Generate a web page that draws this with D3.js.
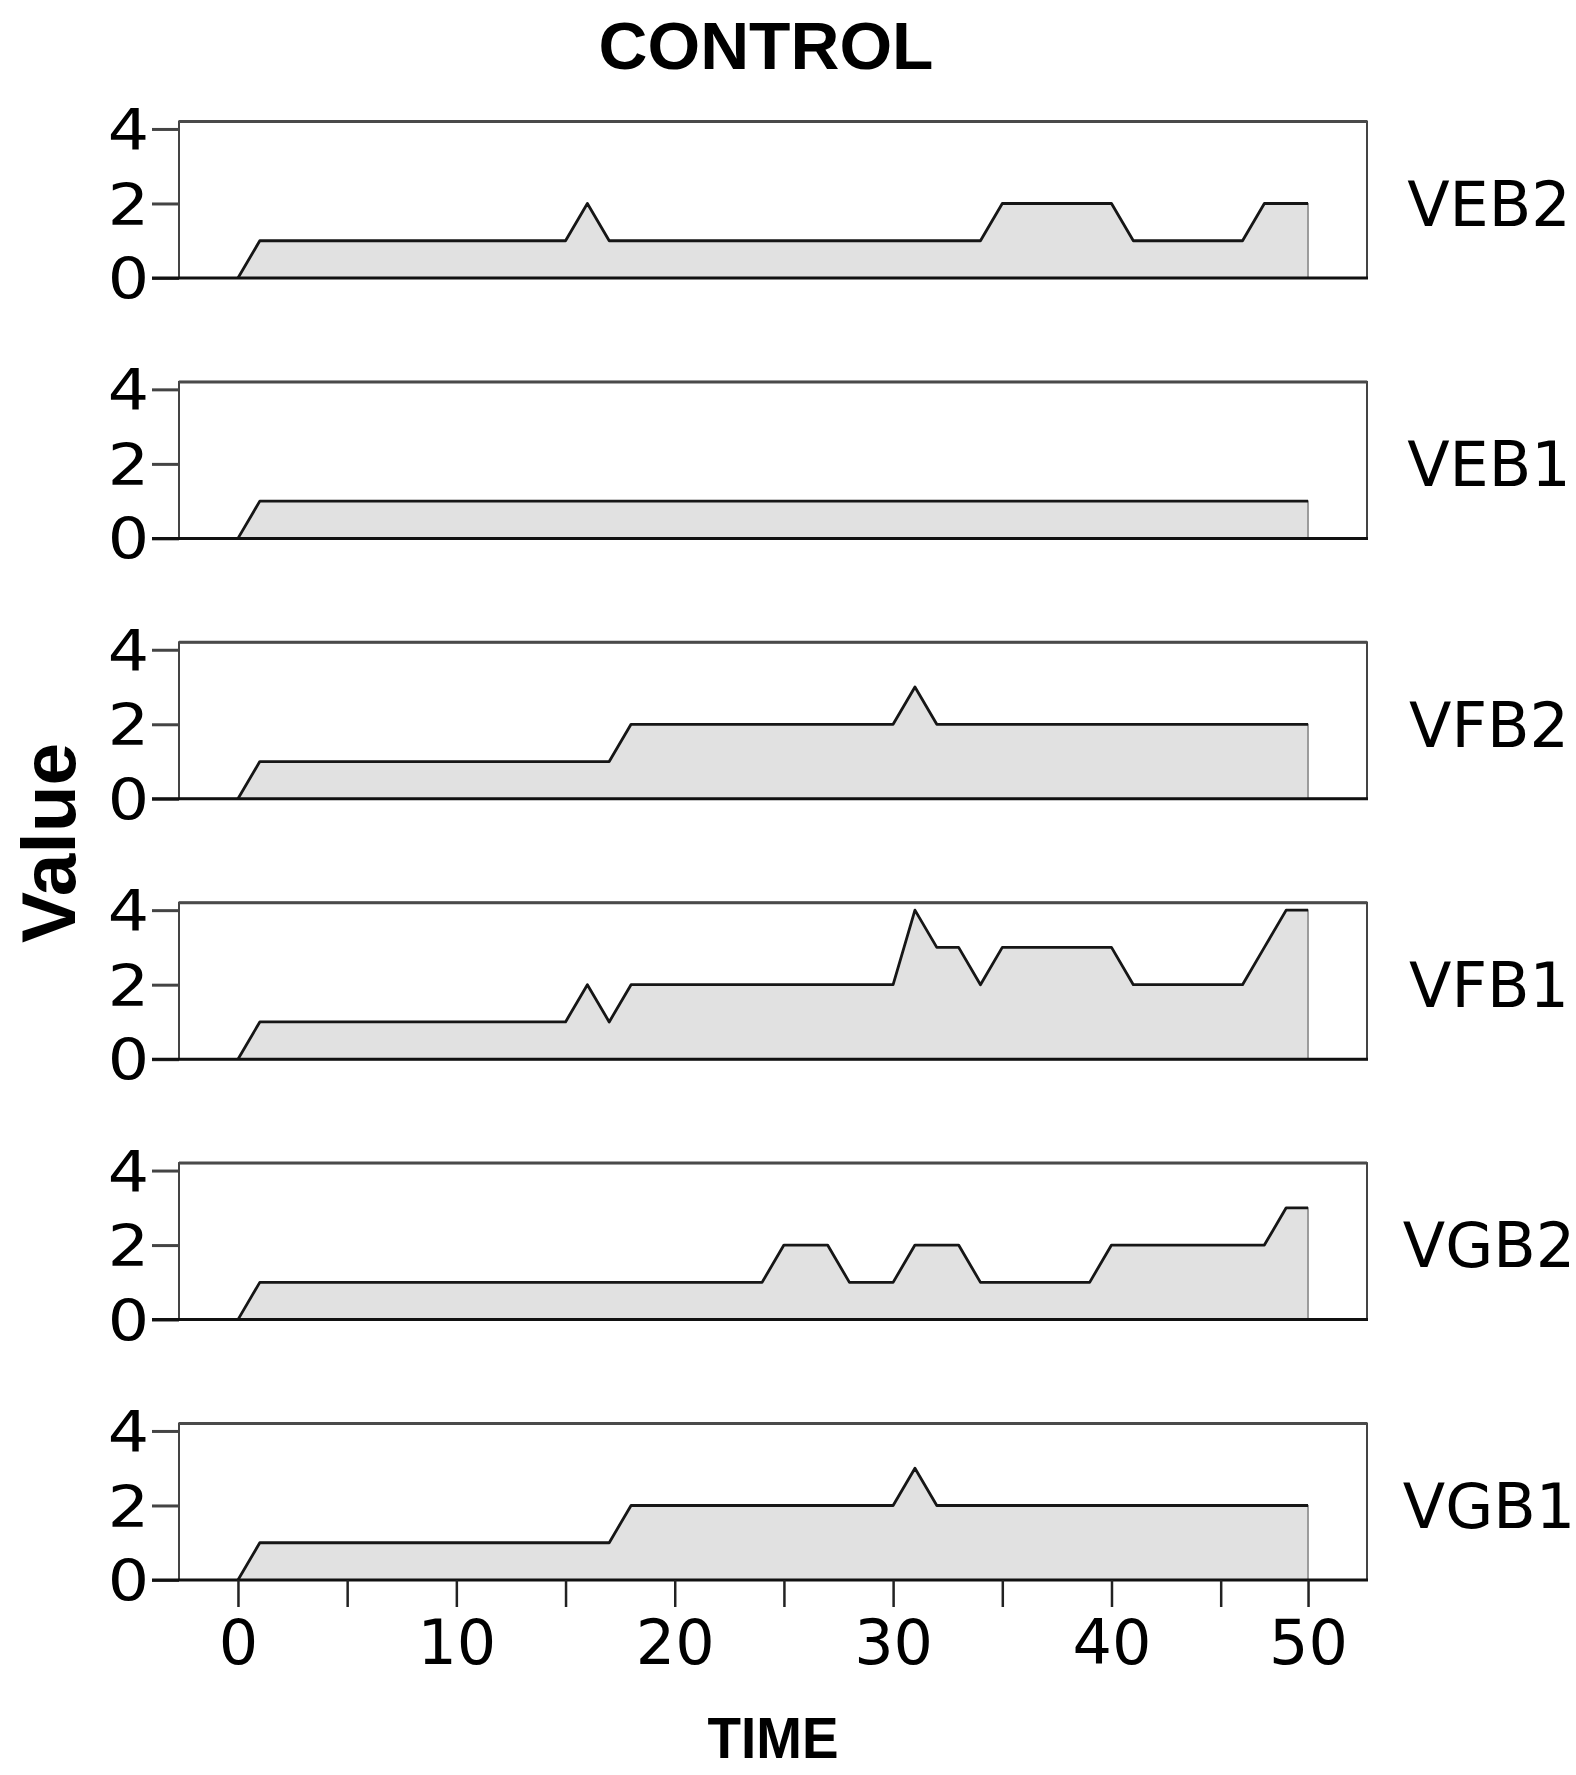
<!DOCTYPE html>
<html>
<head>
<meta charset="utf-8">
<script src="https://cdn.jsdelivr.net/npm/d3@7/dist/d3.min.js"></script>
<style>
	body { margin: 0; background: #fff; }
	.tick text { font-family: "DejaVu Sans", sans-serif; fill: #000; }
</style>
</head>
<body>
<div id="main"></div>
<script>

// time points (x) and the six series
var time = [0,1,2,3,4,5,6,7,8,9,
	10,11,12,13,14,15,16,17,18,19,
	20,21,22,23,24,25,26,27,28,29,
	30,31,32,33,34,35,36,37,38,39,
	40,41,42,43,44,45,46,47,48,49]

var seriesNames = ["VEB2", "VEB1", "VFB2", "VFB1", "VGB2", "VGB1"]

var veb2 = [0,1,1,1,1,1,1,1,1,1,
	1,1,1,1,1,1,2,1,1,1,
	1,1,1,1,1,1,1,1,1,1,
	1,1,1,1,1,2,2,2,2,2,
	2,1,1,1,1,1,1,2,2,2]

var veb1 = [0,1,1,1,1,1,1,1,1,1,
	1,1,1,1,1,1,1,1,1,1,
	1,1,1,1,1,1,1,1,1,1,
	1,1,1,1,1,1,1,1,1,1,
	1,1,1,1,1,1,1,1,1,1]

var vfb2 = [0,1,1,1,1,1,1,1,1,1,
	1,1,1,1,1,1,1,1,2,2,
	2,2,2,2,2,2,2,2,2,2,
	2,3,2,2,2,2,2,2,2,2,
	2,2,2,2,2,2,2,2,2,2]

var vfb1 = [0,1,1,1,1,1,1,1,1,1,
	1,1,1,1,1,1,2,1,2,2,
	2,2,2,2,2,2,2,2,2,2,
	2,4,3,3,2,3,3,3,3,3,
	3,2,2,2,2,2,2,3,4,4]

var vgb2 = [0,1,1,1,1,1,1,1,1,1,
	1,1,1,1,1,1,1,1,1,1,
	1,1,1,1,1,2,2,2,1,1,
	1,2,2,2,1,1,1,1,1,1,
	2,2,2,2,2,2,2,2,3,3]

var vgb1 = [0,1,1,1,1,1,1,1,1,1,
	1,1,1,1,1,1,1,1,2,2,
	2,2,2,2,2,2,2,2,2,2,
	2,3,2,2,2,2,2,2,2,2,
	2,2,2,2,2,2,2,2,2,2]

var seriesValues = [veb2, veb1, vfb2, vfb1, vgb2, vgb1]

var yTicks = [0, 2, 4]
var yTickLabels = ["0", "2", "4"]
var xTicks = [0, 5, 10, 15, 20, 25, 30, 35, 40, 45, 49]
var xTickLabels = ["0", "", "10", "", "20", "", "30", "", "40", "", "50"]

// layout
var w = 1576,
	h = 1775,
	plotLeft = 179,
	plotRight = 1367,
	panelTop = 121.5,
	panelH = 156.5,
	panelStep = 260.4

var svg = d3.select("#main")
	.append("svg")
	.attr("width", w)
	.attr("height", h)
	.style("display", "block")

var x = d3.scaleLinear()
	.domain([-2.7, 51.7])
	.range([plotLeft, plotRight])

seriesNames.forEach(function(name, i) {

	var bottom = panelTop + panelH + i * panelStep

	var y = d3.scaleLinear()
		.domain([0, 4.2])
		.range([bottom, bottom - panelH])

	var pts = time.map(function(t, k) { return { t: t, v: seriesValues[i][k] } })

	var g = svg.append("g").attr("class", "panel")

	// frame
	g.append("rect")
		.attr("x", plotLeft)
		.attr("y", y(4.2))
		.attr("width", plotRight - plotLeft)
		.attr("height", panelH)
		.attr("fill", "none")
		.attr("stroke", "#444")
		.attr("stroke-width", 2)

	g.append("line")
		.attr("x1", plotLeft).attr("x2", plotRight)
		.attr("y1", y(4.2)).attr("y2", y(4.2))
		.attr("stroke", "#4a4a4a")
		.attr("stroke-width", 3)

	var area = d3.area()
		.x(function(d) { return x(d.t) })
		.y0(y(0))
		.y1(function(d) { return y(d.v) })

	var line = d3.line()
		.x(function(d) { return x(d.t) })
		.y(function(d) { return y(d.v) })

	g.append("path")
		.datum(pts)
		.attr("d", area)
		.attr("fill", "#e1e1e1")
		.attr("stroke", "#666")
		.attr("stroke-width", 1.2)

	g.append("path")
		.datum(pts)
		.attr("d", line)
		.attr("fill", "none")
		.attr("stroke", "#161616")
		.attr("stroke-width", 2.8)
		.attr("stroke-linejoin", "round")

	// y axis
	var yAxis = g.append("g")
		.attr("transform", "translate(" + plotLeft + ",0)")
		.call(d3.axisLeft(y)
			.tickValues(yTicks)
			.tickFormat(function(d, k) { return yTickLabels[k] })
			.tickSize(27)
			.tickPadding(3))

	yAxis.select(".domain").remove()
	yAxis.selectAll(".tick line")
		.attr("stroke", "#444")
		.attr("stroke-width", 3)
	yAxis.selectAll(".tick text")
		.attr("x", 0)
		.attr("dy", "0.36em")
		.attr("transform", "translate(-30,0) scale(1.14,1)")
		.style("font-size", "57px")

	// baseline
	g.append("line")
		.attr("x1", plotLeft - 27).attr("x2", plotRight + 1)
		.attr("y1", y(0)).attr("y2", y(0))
		.attr("stroke", "#111")
		.attr("stroke-width", 3)

	// series label
	g.append("text")
		.attr("x", 1489)
		.attr("y", y(2))
		.attr("dy", "0.36em")
		.attr("text-anchor", "middle")
		.style("font-family", "DejaVu Sans, sans-serif")
		.style("font-size", "62px")
		.text(name)

	// x axis on last panel only
	if (i == seriesNames.length - 1) {
		var xAxis = g.append("g")
			.attr("transform", "translate(0," + bottom + ")")
			.call(d3.axisBottom(x)
				.tickValues(xTicks)
				.tickFormat(function(d, k) { return xTickLabels[k] })
				.tickSize(27)
				.tickPadding(13))
		xAxis.select(".domain").remove()
		xAxis.selectAll(".tick line")
			.attr("stroke", "#222")
			.attr("stroke-width", 2.5)
		xAxis.selectAll(".tick text")
			.style("font-size", "62px")
	}
})

// titles
svg.append("text")
	.attr("x", 766)
	.attr("y", 69)
	.attr("text-anchor", "middle")
	.attr("textLength", 335)
	.attr("lengthAdjust", "spacingAndGlyphs")
	.style("font-family", "Liberation Sans, Arial, sans-serif")
	.style("font-weight", "bold")
	.style("font-size", "66px")
	.text("CONTROL")

svg.append("text")
	.attr("x", 773)
	.attr("y", 1758)
	.attr("text-anchor", "middle")
	.attr("textLength", 131)
	.attr("lengthAdjust", "spacingAndGlyphs")
	.style("font-family", "Liberation Sans, Arial, sans-serif")
	.style("font-weight", "bold")
	.style("font-size", "58px")
	.text("TIME")

svg.append("text")
	.attr("transform", "translate(75,843) rotate(-90)")
	.attr("text-anchor", "middle")
	.attr("textLength", 200)
	.attr("lengthAdjust", "spacingAndGlyphs")
	.style("font-family", "Liberation Sans, Arial, sans-serif")
	.style("font-weight", "bold")
	.style("font-size", "76px")
	.text("Value")

</script>
</body>
</html>
